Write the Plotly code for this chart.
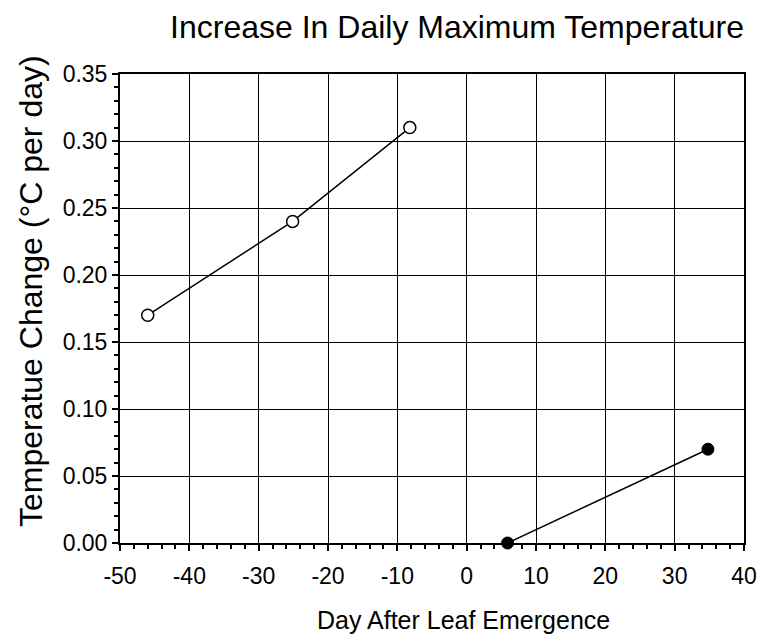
import plotly.graph_objects as go

# Data
before_x = [-46.0, -25.1, -8.2]
before_y = [0.17, 0.24, 0.31]
after_x = [5.9, 34.8]
after_y = [0.0, 0.07]

x_ticks = [-50, -40, -30, -20, -10, 0, 10, 20, 30, 40]
y_ticks = [0.00, 0.05, 0.10, 0.15, 0.20, 0.25, 0.30, 0.35]

FONT = "Liberation Sans, Arial, sans-serif"

fig = go.Figure()
fig.add_trace(go.Scatter(
    x=before_x, y=before_y, mode="lines+markers",
    line=dict(color="black", width=1.5),
    marker=dict(symbol="circle", size=12, color="white",
                line=dict(color="black", width=1.5)),
    showlegend=False, cliponaxis=False))
fig.add_trace(go.Scatter(
    x=after_x, y=after_y, mode="lines+markers",
    line=dict(color="black", width=1.5),
    marker=dict(symbol="circle", size=12, color="black",
                line=dict(color="black", width=1)),
    showlegend=False, cliponaxis=False))

fig.update_layout(
    width=767, height=639,
    paper_bgcolor="white", plot_bgcolor="white",
    margin=dict(l=119.5, r=23, t=74, b=96, autoexpand=False),
    font=dict(family=FONT, color="black", size=23),
    title=dict(text="Increase In Daily Maximum Temperature",
               x=457 / 767, xanchor="center", xref="container",
               y=1 - 27 / 639, yanchor="middle", yref="container",
               font=dict(size=32, family=FONT, color="black")),
    annotations=[
        dict(text="Temperatue Change (°C per day)", textangle=-90,
             x=(30 - 119.5) / 624.5, y=(543 - 291.5) / 469,
             xref="paper", yref="paper", xanchor="center", yanchor="middle",
             showarrow=False, font=dict(size=32, family=FONT, color="black")),
        dict(text="Day After Leaf Emergence",
             x=(463.5 - 119.5) / 624.5, y=(543 - 620) / 469,
             xref="paper", yref="paper", xanchor="center", yanchor="middle",
             showarrow=False, font=dict(size=25, family=FONT, color="black")),
    ],
)
fig.update_xaxes(
    range=[-50, 40], tickvals=x_ticks, ticktext=[str(v) for v in x_ticks],
    automargin=False, ticklabelstandoff=5,
    showline=True, linecolor="black", linewidth=2, mirror=True,
    showgrid=True, gridcolor="black", gridwidth=1,
    zeroline=False,
    ticks="outside", ticklen=6, tickwidth=2, tickcolor="black",
    minor=dict(dtick=2, ticks="outside", ticklen=4, tickwidth=1.5, tickcolor="black", showgrid=False),
    tickfont=dict(size=23, family=FONT),
)
fig.update_yaxes(
    range=[0, 0.35], tickvals=y_ticks, ticktext=[f"{v:.2f}" for v in y_ticks],
    automargin=False,
    showline=True, linecolor="black", linewidth=2, mirror=True,
    showgrid=True, gridcolor="black", gridwidth=1,
    zeroline=False,
    ticks="outside", ticklen=6, tickwidth=2, tickcolor="black",
    minor=dict(dtick=0.01, ticks="outside", ticklen=4, tickwidth=1.5, tickcolor="black", showgrid=False),
    tickfont=dict(size=23, family=FONT),
)

fig.write_html("out.html", config={"displayModeBar": False},
               post_script="document.body.style.margin='0';")
